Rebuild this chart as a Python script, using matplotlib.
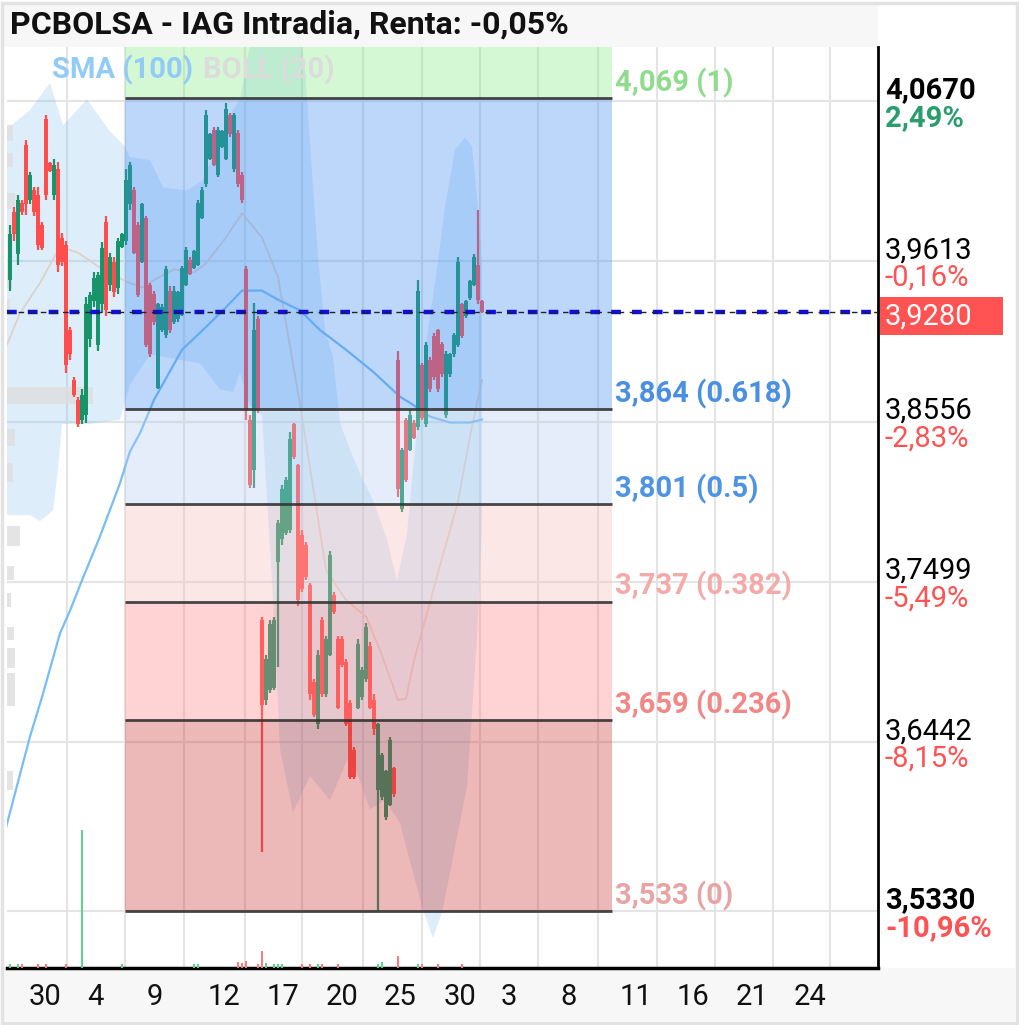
import numpy as np
import matplotlib
matplotlib.use("Agg")
import matplotlib.pyplot as plt
import matplotlib.transforms as mtransforms
from matplotlib.patches import Rectangle

plt.rcParams['font.family'] = ['Roboto', 'DejaVu Sans']
plt.rcParams['lines.scale_dashes'] = False

# velas intradia (open, high, low, close)
opens = [3.949, 3.994, 3.966, 4.000, 4.038, 4.002, 4.008, 4.005, 3.985, 4.055,
         4.026, 4.005, 4.022, 3.977, 3.972, 3.916, 3.883, 3.870, 3.857, 3.860,
         3.910, 3.935, 3.906, 3.933, 3.987, 3.946, 3.961, 3.944, 3.971, 3.975,
         3.999, 4.008, 3.985, 3.961, 3.990, 3.946, 3.940, 3.878, 3.916, 3.913,
         3.942, 3.921, 3.923, 3.926, 3.946, 3.962, 3.957, 3.959, 3.990, 4.012,
         4.029, 4.048, 4.018, 4.037, 4.029, 4.058, 4.022, 4.046, 4.018, 3.956,
         3.857, 3.824, 3.923, 3.725, 3.672, 3.679, 3.680, 3.763, 3.778, 3.782,
         3.784, 3.854, 3.827, 3.781, 3.774, 3.748, 3.684, 3.656, 3.725, 3.676,
         3.702, 3.741, 3.712, 3.712, 3.697, 3.670, 3.639, 3.667, 3.674, 3.686,
         3.708, 3.672, 3.613, 3.608, 3.595, 3.603, 3.627, 3.896, 3.798, 3.857,
         3.837, 3.855, 3.852, 3.893, 3.854, 3.896, 3.912, 3.916, 3.907, 3.860,
         3.887, 3.900, 3.906, 3.933, 3.925, 3.937, 3.946, 3.959, 3.935]
highs = [3.985, 3.997, 4.005, 4.002, 4.041, 4.020, 4.010, 4.010, 3.987, 4.058,
         4.027, 4.029, 4.027, 3.980, 3.975, 3.918, 3.885, 3.872, 3.877, 3.938,
         3.941, 3.954, 3.954, 3.974, 3.991, 3.967, 3.964, 3.977, 3.980, 4.022,
         4.027, 4.010, 3.987, 4.000, 3.991, 3.947, 3.942, 3.934, 3.933, 3.958,
         3.945, 3.945, 3.942, 3.958, 3.971, 3.964, 3.969, 4.002, 4.010, 4.061,
         4.046, 4.050, 4.050, 4.048, 4.066, 4.059, 4.059, 4.048, 4.020, 3.958,
         3.860, 3.934, 3.925, 3.727, 3.702, 3.725, 3.727, 3.791, 3.814, 3.819,
         3.849, 3.855, 3.828, 3.784, 3.776, 3.749, 3.686, 3.705, 3.727, 3.714,
         3.770, 3.743, 3.714, 3.714, 3.699, 3.672, 3.641, 3.712, 3.694, 3.723,
         3.710, 3.676, 3.657, 3.637, 3.626, 3.648, 3.628, 3.902, 3.838, 3.858,
         3.863, 3.857, 3.949, 3.894, 3.908, 3.898, 3.914, 3.917, 3.908, 3.902,
         3.901, 3.914, 3.964, 3.934, 3.936, 3.949, 3.966, 3.995, 3.936]
lows = [3.942, 3.975, 3.959, 3.992, 3.992, 3.999, 3.991, 3.969, 3.969, 4.002,
        4.020, 4.002, 3.954, 3.958, 3.888, 3.896, 3.872, 3.852, 3.854, 3.855,
        3.905, 3.931, 3.902, 3.927, 3.925, 3.942, 3.938, 3.940, 3.970, 3.972,
        3.995, 3.966, 3.938, 3.960, 3.905, 3.898, 3.919, 3.877, 3.915, 3.911,
        3.914, 3.920, 3.921, 3.925, 3.945, 3.952, 3.956, 3.958, 3.989, 4.010,
        4.028, 4.024, 4.017, 4.036, 4.028, 4.043, 4.020, 4.010, 4.000, 3.857,
        3.812, 3.812, 3.861, 3.572, 3.669, 3.677, 3.679, 3.694, 3.774, 3.781,
        3.782, 3.831, 3.734, 3.743, 3.751, 3.672, 3.661, 3.653, 3.674, 3.674,
        3.701, 3.729, 3.666, 3.694, 3.655, 3.620, 3.620, 3.666, 3.672, 3.684,
        3.666, 3.649, 3.533, 3.606, 3.593, 3.602, 3.608, 3.806, 3.796, 3.816,
        3.836, 3.844, 3.850, 3.857, 3.852, 3.875, 3.883, 3.875, 3.885, 3.858,
        3.885, 3.898, 3.905, 3.911, 3.924, 3.936, 3.945, 3.933, 3.927]
closes = [3.979, 3.979, 4.002, 3.994, 3.999, 4.018, 3.994, 3.972, 3.970, 4.005,
          4.021, 4.025, 3.959, 3.961, 3.893, 3.900, 3.873, 3.854, 3.873, 3.933,
          3.939, 3.950, 3.952, 3.970, 3.929, 3.964, 3.941, 3.975, 3.979, 4.015,
          4.025, 3.967, 3.939, 3.999, 3.906, 3.900, 3.921, 3.933, 3.931, 3.956,
          3.916, 3.942, 3.941, 3.957, 3.969, 3.953, 3.968, 4.000, 4.008, 4.058,
          4.045, 4.025, 4.048, 4.047, 4.062, 4.045, 4.058, 4.012, 4.002, 3.863,
          3.814, 3.916, 3.863, 3.669, 3.699, 3.722, 3.725, 3.789, 3.811, 3.817,
          3.844, 3.832, 3.738, 3.745, 3.753, 3.676, 3.662, 3.702, 3.676, 3.712,
          3.768, 3.730, 3.667, 3.695, 3.656, 3.621, 3.621, 3.709, 3.692, 3.720,
          3.667, 3.653, 3.656, 3.636, 3.625, 3.646, 3.610, 3.811, 3.837, 3.817,
          3.860, 3.845, 3.942, 3.858, 3.906, 3.877, 3.885, 3.877, 3.887, 3.900,
          3.900, 3.913, 3.961, 3.912, 3.935, 3.948, 3.964, 3.936, 3.928]

# volumen (solo barras visibles)
vol_idx = [0, 2, 3, 7, 9, 14, 18, 28, 46, 47, 57, 58, 59, 62, 63, 64, 66, 67, 68,
           73, 75, 77, 78, 82, 92, 93, 97, 102, 103, 107, 113]
vol_val = [4, 4, 4, 4, 4, 4, 138, 4, 4, 4, 6, 5, 7, 4, 17, 5, 4, 4, 4,
           4, 4, 4, 4, 4, 4, 6, 12, 4, 4, 4, 4]

# SMA(100)
sma_x = [-1, 5, 8, 12.5, 15, 18, 22.5, 27.5, 30, 32.5, 36, 43, 49, 54, 58, 63,
         67, 72.5, 77.5, 84, 91, 97.5, 100, 105, 110, 115, 118]
sma_y = [3.588, 3.648, 3.674, 3.716, 3.731, 3.751, 3.780, 3.815, 3.836, 3.848,
         3.870, 3.903, 3.918, 3.931, 3.942, 3.942, 3.936, 3.929, 3.916, 3.903,
         3.888, 3.872, 3.868, 3.859, 3.855, 3.855, 3.857]

# BOLL(20)
mid_x = [-1, 2.5, 7.5, 12.5, 17, 22, 29, 33, 36, 41, 46, 49, 54, 58, 63, 67,
         72.5, 79, 84, 89, 92.5, 97, 99, 101, 107, 112, 115, 118]
mid_y = [3.905, 3.927, 3.947, 3.971, 3.967, 3.958, 3.948, 3.944, 3.949, 3.956,
         3.954, 3.960, 3.977, 3.993, 3.977, 3.951, 3.867, 3.758, 3.738, 3.727,
         3.705, 3.672, 3.673, 3.698, 3.756, 3.803, 3.846, 3.883]
up_x = [-1, 5, 10, 13.25, 19.25, 25, 28.75, 30, 35, 38.25, 44.25, 48.25, 51.75,
        54.25, 55.75, 57.5, 60, 65, 72.5, 73.75, 75.5, 77, 78.75, 80.75, 82.5, 85,
        88.25, 90.75, 94.25, 96.75, 99.25, 100.75, 102.5, 104.5, 106.75, 108.75,
        111.25, 113.75, 115.5, 117, 118]
up_y = [4.048, 4.061, 4.079, 4.051, 4.068, 4.047, 4.037, 4.030, 4.028, 4.010,
        4.008, 4.015, 4.037, 4.053, 4.061, 4.068, 4.104, 4.114, 4.107, 4.088,
        4.020, 3.964, 3.916, 3.898, 3.855, 3.837, 3.817, 3.804, 3.778, 3.751,
        3.782, 3.824, 3.870, 3.916, 3.956, 3.997, 4.035, 4.043, 4.037, 3.997, 3.959]
low_x = [-1, 5, 7.5, 10.75, 12, 13, 20, 27.5, 30, 35, 43.25, 47.5, 52.5, 55.75,
         57.5, 60, 63, 65.75, 67.5, 70.75, 75, 80, 85, 90, 93.75, 97.5, 100.75,
         103.25, 105.75, 108, 110, 114.25, 116.75, 118]
low_y = [3.794, 3.794, 3.790, 3.797, 3.824, 3.854, 3.854, 3.857, 3.880, 3.900,
         3.896, 3.894, 3.877, 3.875, 3.888, 3.866, 3.860, 3.738, 3.640, 3.598,
         3.622, 3.606, 3.637, 3.600, 3.606, 3.591, 3.558, 3.534, 3.515, 3.532,
         3.558, 3.615, 3.713, 3.786]

# perfil de volumen (lado izquierdo)
vp_price = [4.046, 4.028, 4.001, 3.954, 3.932, 3.873, 3.845, 3.822, 3.780,
            3.756, 3.738, 3.716, 3.700, 3.679, 3.619]
vp_len = [1.5, 1.5, 2.0, 1.3, 0.8, 21.5, 2.0, 1.5, 3.2, 1.8, 1.0, 1.8, 2.0, 2.0, 1.5]
vp_hgt = [0.011, 0.009, 0.011, 0.020, 0.009, 0.011, 0.011, 0.013, 0.013,
          0.009, 0.009, 0.009, 0.013, 0.022, 0.013]

# Fibonacci
fib_start, fib_end = 28.75, 150.5
fib_prices = [4.069, 3.864, 3.801, 3.737, 3.659, 3.533]
fib_text = ['4,069 (1)', '3,864 (0.618)', '3,801 (0.5)', '3,737 (0.382)',
            '3,659 (0.236)', '3,533 (0)']
fib_txtcol = ['#8fdc8f', '#4a90e2', '#4f94e4', '#f5aaaa', '#f08888', '#e8a4a4']
fib_fill = ['#84eb84', '#428df3', '#b2ceee', '#f9bdbd', '#ff8181', '#ce3434']

# eje de precios
levels = [4.0670, 3.9613, 3.8556, 3.7499, 3.6442, 3.5330]
pcts = ['2,49%', '-0,16%', '-2,83%', '-5,49%', '-8,15%', '-10,96%']
last_price = 3.928

xgrid = [14.25, 28.75, 43.5, 58.75, 73, 88.25, 103, 117.5, 132, 147, 161.75,
         176.25, 190.75, 205]
xtick_pos = [8.75, 21.25, 36.25, 53.5, 68.25, 83, 97.5, 112.5, 124.75, 139.75,
             156.5, 170.75, 185.5, 200]
xtick_lab = ['30', '4', '9', '12', '17', '20', '25', '30', '3', '8', '11', '16',
             '21', '24']

W, H = 1020, 1025
fig = plt.figure(figsize=(W / 100, H / 100), dpi=100)
fig.patch.set_facecolor('white')

# barra de titulo y franja inferior
fig.add_artist(Rectangle((3 / W, 1 - 47 / H), 875 / W, 44 / H, transform=fig.transFigure,
                         facecolor='#f7f7f7', edgecolor='none', zorder=-2))
fig.add_artist(Rectangle((3 / W, 4 / H), 1012 / W, 53 / H, transform=fig.transFigure,
                         facecolor='#f7f7f7', edgecolor='none', zorder=-2))
fig.add_artist(Rectangle((2 / W, 2 / H), 1015 / W, 1020 / H, transform=fig.transFigure,
                         facecolor='none', edgecolor='#e2e2e2', lw=2.5, zorder=-1))
fig.text(10 / W, 1 - 25 / H, 'PCBOLSA - IAG Intradia, Renta: -0,05%', fontsize=23,
         fontweight='bold', va='center', ha='left', color='#111111')

ax = fig.add_axes([7 / W, 1 - 968 / H, 871 / W, 921 / H])
ax.set_facecolor('white')
ax.set_xlim(-0.75, 217)
ax.set_ylim(3.4954, 4.1026)

# rejilla
for gx in xgrid:
    ax.axvline(gx, color='#e4e4e4', lw=1.5, zorder=0.5)
for lv in levels:
    ax.axhline(lv, color='#e4e4e4', lw=1.5, zorder=0.5)

# bandas de Bollinger
ax.fill(np.concatenate([up_x, low_x[::-1]]), np.concatenate([up_y, low_y[::-1]]),
        color='#86c3f0', alpha=0.28, lw=0, zorder=1)
ax.plot(mid_x, mid_y, color='#ddd0ca', lw=1.3, zorder=1.5)

# perfil de volumen
ax.barh(vp_price, vp_len, height=vp_hgt, left=-0.75, color='#dedede', alpha=0.8,
        zorder=1.2)

# SMA
ax.plot(sma_x, sma_y, color='#78bdf6', lw=1.6, zorder=2)

# velas
idx = np.arange(len(closes))
o = np.array(opens); c = np.array(closes)
up = c >= o
cols = np.where(up, '#17946a', '#ff4d4d')
ax.vlines(idx, lows, highs, colors=cols, lw=1.6, zorder=3)
body = np.maximum(np.abs(c - o), 0.0012)
ax.bar(idx, body, bottom=np.minimum(o, c), width=0.88, color=cols, lw=0, zorder=3)

# zonas de Fibonacci (encima de las velas, semitransparentes)
top = ax.get_ylim()[1]
bounds = [top] + fib_prices
for k in range(len(fib_prices)):
    ax.fill_between([fib_start, fib_end], bounds[k + 1], bounds[k], color=fib_fill[k],
                    alpha=0.35, lw=0, zorder=4)
ax.hlines(fib_prices, fib_start, fib_end, colors='#333333', lw=2, alpha=0.9, zorder=5)
for p, t, tc in zip(fib_prices, fib_text, fib_txtcol):
    ax.annotate(t, xy=(fib_end, p), xytext=(2, 11), textcoords='offset points',
                fontsize=21, fontweight='bold', color=tc, va='center', ha='left',
                zorder=6)

# ultimo precio
ax.axhline(last_price, color='#1010d8', lw=3.2, dashes=(7, 8), zorder=6)
ax.axhline(last_price, color='#222222', lw=1.0, dashes=(4, 4), zorder=6.5)

# volumen
vax = ax.twinx()
vax.set_ylim(0, max(vol_val) * 921 / 138)
vcols = ['#5ad68c' if up[i] else '#ff7b7b' for i in vol_idx]
vax.bar(vol_idx, vol_val, width=0.4, color=vcols, lw=0)
vax.set_yticks([])
for s in vax.spines.values():
    s.set_visible(False)

# ejes
for s in ['left', 'top']:
    ax.spines[s].set_visible(False)
ax.spines['right'].set_color('black')
ax.spines['right'].set_linewidth(2)
ax.spines['bottom'].set_color('black')
ax.spines['bottom'].set_linewidth(2.5)
ax.set_yticks([])
ax.set_xticks(xtick_pos)
ax.set_xticklabels(xtick_lab)
ax.tick_params(axis='x', length=0, pad=11, labelsize=21, colors='#111111')

# etiquetas de precio a la derecha
for i, (lv, pc) in enumerate(zip(levels, pcts)):
    bold = i in (0, len(levels) - 1)
    ax.annotate(f'{lv:.4f}'.replace('.', ','), xy=(1, lv), xycoords=('axes fraction', 'data'),
                xytext=(5, 8), textcoords='offset points', fontsize=21, va='center',
                ha='left', color='black', fontweight='bold' if bold else 'normal',
                annotation_clip=False)
    pcol = '#2a9d6f' if pc[0] != '-' else '#ff5252'
    ax.annotate(pc, xy=(1, lv), xycoords=('axes fraction', 'data'),
                xytext=(5, -12), textcoords='offset points', fontsize=21, va='center',
                ha='left', color=pcol, fontweight='bold' if bold else 'normal',
                annotation_clip=False)

blend = mtransforms.blended_transform_factory(fig.transFigure, ax.transData)
box_h = 0.025
ax.add_patch(Rectangle((880 / W, last_price - 0.003 - box_h / 2), 123 / W, box_h,
                       transform=blend, facecolor='#ff5252', edgecolor='none',
                       clip_on=False, zorder=7))
ax.annotate(f'{last_price:.4f}'.replace('.', ','), xy=(1, last_price - 0.003),
            xycoords=('axes fraction', 'data'), xytext=(5, 0), textcoords='offset points',
            fontsize=21, va='center', ha='left', color='white', annotation_clip=False,
            zorder=8)

# leyenda de indicadores
fig.text(52 / W, 1 - 70 / H, 'SMA (100)', fontsize=21, fontweight='bold',
         color='#93cbf7', va='center', ha='left')
fig.text(203 / W, 1 - 70 / H, 'BOLL (20)', fontsize=21, fontweight='bold',
         color='#dcdcdc', va='center', ha='left')

fig.savefig('out.png', dpi=100)
